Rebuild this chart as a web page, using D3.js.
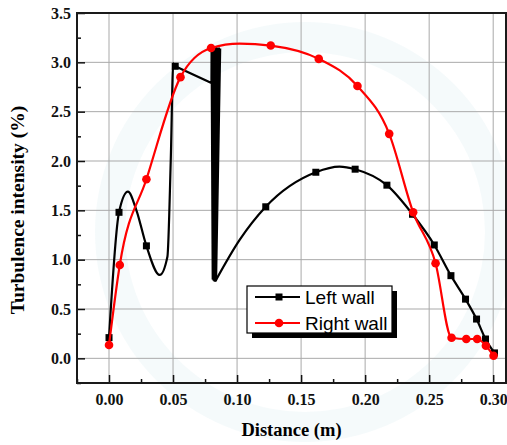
<!DOCTYPE html>
<html>
<head>
<meta charset="utf-8">
<script src="https://cdn.jsdelivr.net/npm/d3@7"></script>
<style>
  body { margin: 0; background: #fff; }
  svg { display: block; }
  .tick text { font-family: "Liberation Serif", "Times New Roman", serif; font-weight: bold; font-size: 16px; fill: #111; }
</style>
</head>
<body>
<div id="chart"></div>
<script>
// ---- data ----
// Left wall (black, squares). leftMark = 1 where a marker is drawn
const leftX = [0.000, 0.0078, 0.0148, 0.0214, 0.0292, 0.0396, 0.0456, 0.0482, 0.0502, 0.0517,
               0.0800,
               0.0801, 0.0810, 0.0811, 0.0816, 0.0823, 0.0822, 0.0835, 0.0827, 0.0846, 0.0831, 0.0858, 0.0836, 0.0868, 0.0834,
               0.102, 0.1224, 0.1615, 0.180, 0.1922, 0.217, 0.237, 0.254, 0.267, 0.2784, 0.287, 0.294, 0.3010];
const leftY = [0.21, 1.48, 1.69, 1.50, 1.14, 0.845, 1.03, 2.00, 2.99, 2.96,
               2.79,
               3.16, 0.80, 3.16, 0.79, 3.16, 0.78, 3.16, 0.777, 3.15, 0.78, 3.15, 0.80, 3.14, 0.79,
               1.20, 1.536, 1.886, 1.943, 1.917, 1.755, 1.46, 1.149, 0.838, 0.60, 0.398, 0.196, 0.055];
const leftMark = [1, 1, 0, 0, 1, 0, 0, 0, 0, 1,
                  0,
                  0, 0, 0, 0, 0, 0, 0, 0, 0, 0, 0, 0, 0, 0,
                  0, 1, 1, 0, 1, 1, 1, 1, 1, 1, 1, 1, 1];
// the part from the 0.052 marker through the spike is joined by straight segments
const leftStraight = [9, 24];

// Right wall (red, circles)
const rightX = [0.000, 0.0084, 0.0292, 0.0558, 0.0797, 0.102, 0.1263, 0.1638, 0.194, 0.2188, 0.2375,
                0.255, 0.2675, 0.279, 0.2875, 0.2943, 0.3003];
const rightY = [0.135, 0.946, 1.815, 2.85, 3.145, 3.19, 3.17, 3.035, 2.76, 2.275, 1.48,
                0.963, 0.209, 0.196, 0.196, 0.128, 0.026];
const rightMark = [1, 1, 1, 1, 1, 0, 1, 1, 1, 1, 1, 1, 1, 1, 1, 1, 1];

const xTicks = [0.00, 0.05, 0.10, 0.15, 0.20, 0.25, 0.30];
const yTicks = [0.0, 0.5, 1.0, 1.5, 2.0, 2.5, 3.0, 3.5];
const xMinor = [-0.025, 0.025, 0.075, 0.125, 0.175, 0.225, 0.275];
const yMinor = [-0.25, 0.25, 0.75, 1.25, 1.75, 2.25, 2.75, 3.25];

const seriesNames = ["Left wall", "Right wall"];
const seriesColors = ["#000000", "#ff0000"];

// ---- chart ----
const W = 507, H = 445;
const margin = {top: 13, right: 1, bottom: 62, left: 77};
const width = W - margin.left - margin.right;
const height = H - margin.top - margin.bottom;

const svg = d3.select("#chart").append("svg")
    .attr("width", W)
    .attr("height", H);

// faint watermark ring behind the plot
svg.append("path")
    .attr("d", d3.arc()({innerRadius: 180, outerRadius: 210, startAngle: 0, endAngle: 2 * Math.PI}))
    .attr("transform", "translate(305,232)")
    .attr("fill", "#e9f3f7")
    .attr("opacity", 0.45);

const g = svg.append("g")
    .attr("transform", `translate(${margin.left},${margin.top})`);

const x = d3.scaleLinear().domain([-0.025, 0.31]).range([0, width]);
const y = d3.scaleLinear().domain([-0.25, 3.5]).range([height, 0]);

// grid
g.append("g").selectAll("line")
    .data(xTicks)
    .join("line")
    .attr("x1", d => x(d)).attr("x2", d => x(d))
    .attr("y1", 0).attr("y2", height)
    .attr("stroke", "#a9a9a9").attr("stroke-width", 1);

g.append("g").selectAll("line")
    .data(yTicks.filter(d => d < 3.5))
    .join("line")
    .attr("x1", 0).attr("x2", width)
    .attr("y1", d => y(d)).attr("y2", d => y(d))
    .attr("stroke", "#a9a9a9").attr("stroke-width", 1);

// series
function toPoints(xs, ys, ms) {
    return xs.map((v, i) => ({x: v, y: ys[i], m: ms[i]}));
}
const left = toPoints(leftX, leftY, leftMark);
const right = toPoints(rightX, rightY, rightMark);

const smooth = d3.line()
    .x(d => x(d.x))
    .y(d => y(d.y))
    .curve(d3.curveMonotoneX);

const straight = d3.line()
    .x(d => x(d.x))
    .y(d => y(d.y));

const leftParts = [
    [left.slice(0, leftStraight[0] + 1), smooth],
    [left.slice(leftStraight[0], leftStraight[1] + 1), straight],
    [left.slice(leftStraight[1]), smooth]
];

leftParts.forEach(([pts, gen]) => {
    g.append("path")
        .datum(pts)
        .attr("fill", "none")
        .attr("stroke", seriesColors[0])
        .attr("stroke-width", 2.2)
        .attr("stroke-linejoin", "miter")
        .attr("stroke-linecap", "round")
        .attr("d", gen);
});

g.append("g").selectAll("rect")
    .data(left.filter(d => d.m))
    .join("rect")
    .attr("x", d => x(d.x) - 3.5)
    .attr("y", d => y(d.y) - 3.5)
    .attr("width", 7).attr("height", 7)
    .attr("fill", seriesColors[0]);

g.append("path")
    .datum(right)
    .attr("fill", "none")
    .attr("stroke", seriesColors[1])
    .attr("stroke-width", 2.2)
    .attr("stroke-linejoin", "round")
    .attr("d", smooth);

g.append("g").selectAll("circle")
    .data(right.filter(d => d.m))
    .join("circle")
    .attr("cx", d => x(d.x))
    .attr("cy", d => y(d.y))
    .attr("r", 4.3)
    .attr("fill", seriesColors[1]);

// axes (ticks point inward)
g.append("g")
    .attr("transform", `translate(0,${height})`)
    .call(d3.axisBottom(x).tickValues(xMinor).tickSize(-4).tickFormat(""))
    .call(a => a.select(".domain").remove())
    .call(a => a.selectAll("line").attr("stroke", "#111").attr("stroke-width", 1.5));

g.append("g")
    .attr("transform", `translate(0,${height})`)
    .call(d3.axisBottom(x).tickValues(xTicks).tickSize(-8).tickPadding(11).tickFormat(d3.format(".2f")))
    .call(a => a.select(".domain").remove())
    .call(a => a.selectAll("line").attr("stroke", "#111").attr("stroke-width", 1.5));

g.append("g")
    .call(d3.axisLeft(y).tickValues(yMinor).tickSize(-4).tickFormat(""))
    .call(a => a.select(".domain").remove())
    .call(a => a.selectAll("line").attr("stroke", "#111").attr("stroke-width", 1.5));

g.append("g")
    .call(d3.axisLeft(y).tickValues(yTicks).tickSize(-8).tickPadding(6).tickFormat(d3.format(".1f")))
    .call(a => a.select(".domain").remove())
    .call(a => a.selectAll("line").attr("stroke", "#111").attr("stroke-width", 1.5));

// frame
g.append("rect")
    .attr("x", 0).attr("y", 0)
    .attr("width", width).attr("height", height)
    .attr("fill", "none")
    .attr("stroke", "#1a1a1a")
    .attr("stroke-width", 2);

// axis titles
svg.append("text")
    .attr("x", margin.left + width / 2)
    .attr("y", 436)
    .attr("text-anchor", "middle")
    .style("font-family", "'Liberation Serif', 'Times New Roman', serif")
    .style("font-weight", "bold")
    .style("font-size", "18.5px")
    .text("Distance (m)");

svg.append("text")
    .attr("transform", "translate(24,210) rotate(-90)")
    .attr("text-anchor", "middle")
    .style("font-family", "'Liberation Serif', 'Times New Roman', serif")
    .style("font-weight", "bold")
    .style("font-size", "19.5px")
    .text("Turbulence intensity (%)");

// legend
const lg = svg.append("g").attr("transform", "translate(247,286)");
lg.append("rect")
    .attr("x", 5).attr("y", 5)
    .attr("width", 145).attr("height", 47)
    .attr("fill", "#000");
lg.append("rect")
    .attr("x", 0).attr("y", 0)
    .attr("width", 145).attr("height", 47)
    .attr("fill", "#fff")
    .attr("stroke", "#000")
    .attr("stroke-width", 1.2);

seriesNames.forEach((name, i) => {
    const row = lg.append("g").attr("transform", `translate(0,${11 + i * 26})`);
    row.append("line")
        .attr("x1", 8).attr("x2", 53)
        .attr("stroke", seriesColors[i])
        .attr("stroke-width", 2.2);
    if (i === 0) {
        row.append("rect")
            .attr("x", 28.5).attr("y", -3.5)
            .attr("width", 7).attr("height", 7)
            .attr("fill", seriesColors[i]);
    } else {
        row.append("circle")
            .attr("cx", 32).attr("cy", 0).attr("r", 4.3)
            .attr("fill", seriesColors[i]);
    }
    row.append("text")
        .attr("x", 58)
        .attr("y", 7)
        .style("font-family", "'Liberation Sans', Arial, sans-serif")
        .style("font-size", "19px")
        .attr("fill", "#000")
        .text(name);
});
</script>
</body>
</html>
